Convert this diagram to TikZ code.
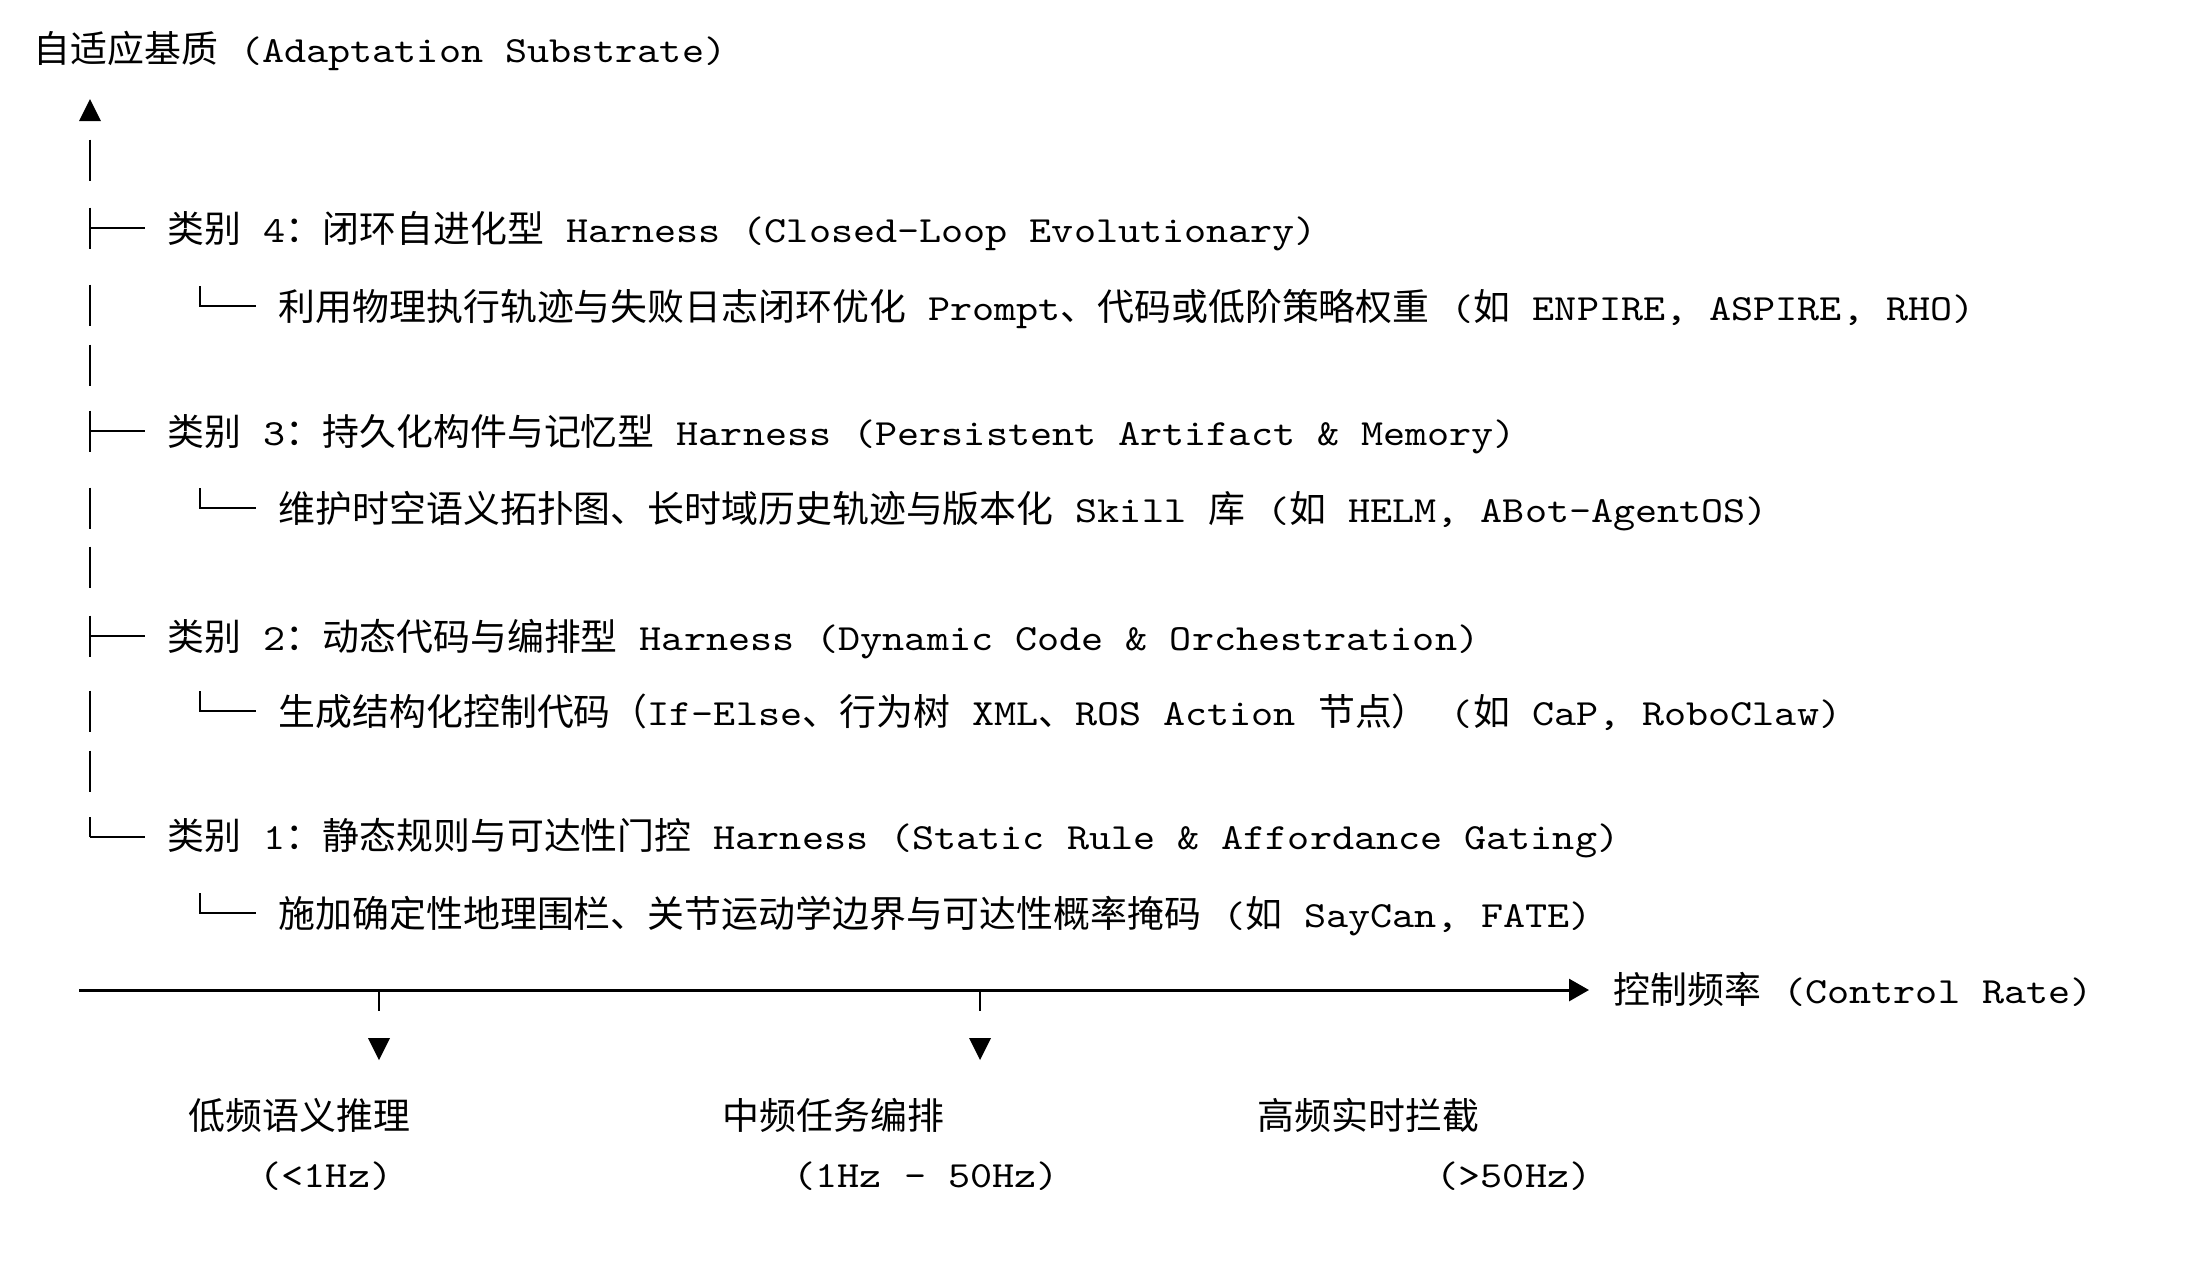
\documentclass[tikz,border=0pt]{standalone}
\usepackage{fontspec}
\setmainfont{lmmono10-regular.otf}[FakeStretch=1.14]
\newfontfamily\zhfont{Noto Sans CJK SC}
\usetikzlibrary{arrows.meta}

\begin{document}
\begin{tikzpicture}[x=0.1mm, y=-0.1mm,
    every node/.style={anchor=base west, inner sep=0pt, font=\fontsize{10.5pt}{12.6pt}\selectfont},
    tree/.style={line width=0.22mm},
    branch/.style={tree, shorten >=2.2mm},
    axis/.style={line width=0.3mm, -{Triangle[length=2mm, width=2.2mm]}}]
  \useasboundingbox (0,0) rectangle (2206,1268);

  % title
  \node (title) at (33,62) {{\zhfont 自适应基质} (Adaptation Substrate)};

  % categories
  \node (cat4) at (167,242) {{\zhfont 类别} 4{\zhfont ：闭环自进化型} Harness (Closed-Loop Evolutionary)};
  \node (sub4) at (278,320) {{\zhfont 利用物理执行轨迹与失败日志闭环优化} Prompt{\zhfont 、代码或低阶策略权重} ({\zhfont 如} ENPIRE, ASPIRE, RHO)};
  \node (cat3) at (167,445) {{\zhfont 类别} 3{\zhfont ：持久化构件与记忆型} Harness (Persistent Artifact \& Memory)};
  \node (sub3) at (278,522) {{\zhfont 维护时空语义拓扑图、长时域历史轨迹与版本化} Skill {\zhfont 库} ({\zhfont 如} HELM, ABot-AgentOS)};
  \node (cat2) at (167,650) {{\zhfont 类别} 2{\zhfont ：动态代码与编排型} Harness (Dynamic Code \& Orchestration)};
  \node (sub2) at (278,725) {{\zhfont 生成结构化控制代码（}If-Else{\zhfont 、行为树} XML{\zhfont 、}ROS Action {\zhfont 节点）} ({\zhfont 如} CaP, RoboClaw)};
  \node (cat1) at (167,849) {{\zhfont 类别} 1{\zhfont ：静态规则与可达性门控} Harness (Static Rule \& Affordance Gating)};
  \node (sub1) at (278,927) {{\zhfont 施加确定性地理围栏、关节运动学边界与可达性概率掩码} ({\zhfont 如} SayCan, FATE)};

  % spine
  \coordinate (up) at (90,110);
  \coordinate (r0) at (90,160);
  \coordinate (j4) at (90,228);
  \coordinate (s4) at (90,305);
  \coordinate (r4) at (90,365);
  \coordinate (j3) at (90,431);
  \coordinate (s3) at (90,508);
  \coordinate (r3) at (90,567);
  \coordinate (j2) at (90,636);
  \coordinate (s2) at (90,711);
  \coordinate (r2) at (90,771);
  \coordinate (j1) at (90,837);
  \coordinate (k4) at (200,306);
  \coordinate (k3) at (200,508);
  \coordinate (k2) at (200,711);
  \coordinate (k1) at (200,913);

  \fill (up) ++(0,-11) -- ++(11,22) -- ++(-22,0) -- cycle;
  \begin{scope}[tree]
    \draw ([yshift=2.05mm]r0) -- ([yshift=-2.05mm]r0);
    \draw ([yshift=2.05mm]j4) -- ([yshift=-2.05mm]j4);
    \draw ([yshift=2.05mm]s4) -- ([yshift=-2.05mm]s4);
    \draw ([yshift=2.05mm]r4) -- ([yshift=-2.05mm]r4);
    \draw ([yshift=2.05mm]j3) -- ([yshift=-2.05mm]j3);
    \draw ([yshift=2.05mm]s3) -- ([yshift=-2.05mm]s3);
    \draw ([yshift=2.05mm]r3) -- ([yshift=-2.05mm]r3);
    \draw ([yshift=2.05mm]j2) -- ([yshift=-2.05mm]j2);
    \draw ([yshift=2.05mm]s2) -- ([yshift=-2.05mm]s2);
    \draw ([yshift=2.05mm]r2) -- ([yshift=-2.05mm]r2);
    \draw ([yshift=2mm]j1) -- (j1);
  \end{scope}

  % branches
  \draw[branch] (j4) -- (j4 -| cat4.west);
  \draw[branch] (j3) -- (j3 -| cat3.west);
  \draw[branch] (j2) -- (j2 -| cat2.west);
  \draw[branch] (j1) -- (j1 -| cat1.west);
  \draw[branch] ([yshift=2mm]k4) -- (k4) -- (k4 -| sub4.west);
  \draw[branch] ([yshift=2mm]k3) -- (k3) -- (k3 -| sub3.west);
  \draw[branch] ([yshift=2mm]k2) -- (k2) -- (k2 -| sub2.west);
  \draw[branch] ([yshift=2mm]k1) -- (k1) -- (k1 -| sub1.west);

  % control rate axis
  \coordinate (ax0) at (79,990);
  \coordinate (ax1) at (1589,990);
  \coordinate (tk1) at (379,990);
  \coordinate (tk2) at (980,990);
  \draw[axis] (ax0) -- (ax1);
  \node (rate) at (1613,1003) {{\zhfont 控制频率} (Control Rate)};
  \draw[tree] (tk1) -- ++(0,21);
  \draw[tree] (tk2) -- ++(0,21);
  \fill (tk1) ++(-11,48) -- ++(22,0) -- ++(-11,22) -- cycle;
  \fill (tk2) ++(-11,48) -- ++(22,0) -- ++(-11,22) -- cycle;

  % bands
  \node (lo) at (188,1129) {\zhfont 低频语义推理};
  \node (mid) at (722,1129) {\zhfont 中频任务编排};
  \node (hi) at (1257,1129) {\zhfont 高频实时拦截};
  \node (loHz) at (259,1187) {(<1Hz)};
  \node (midHz) at (793,1187) {(1Hz - 50Hz)};
  \node (hiHz) at (1436,1187) {(>50Hz)};
\end{tikzpicture}
\end{document}
